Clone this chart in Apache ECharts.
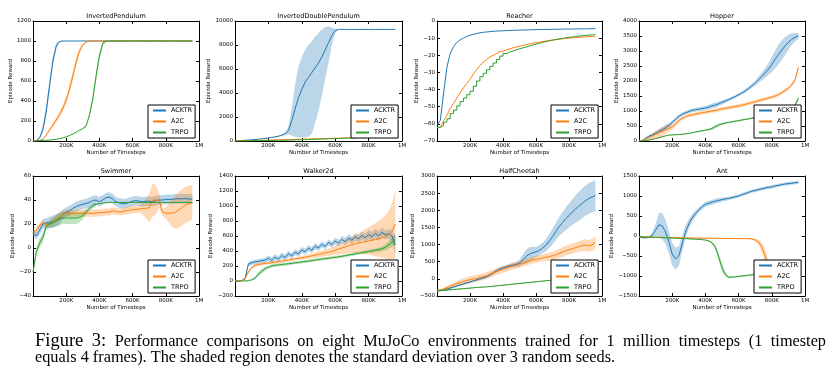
<!DOCTYPE html>
<html>
<head>
<meta charset="utf-8">
<script src="https://cdn.jsdelivr.net/npm/echarts@6/dist/echarts.min.js"></script>
<style>
html, body { margin: 0; padding: 0; background: #fff; }
#chart { width: 837px; height: 377px; }
</style>
</head>
<body>
<div id="chart"></div>
<script>
var dom = document.getElementById("chart");
var myChart = echarts.init(dom, null, { renderer: 'canvas' });

// timesteps (thousands), shared by every curve
var stepsK = [0,20,40,60,80,100,120,140,160,180,
  200,220,240,260,280,300,320,340,360,380,
  400,420,440,460,480,500,520,540,560,580,
  600,620,640,660,680,700,720,740,760,780,
  800,820,840,860,880,900,920,940,960];

var xTicks = ['', '200K', '400K', '600K', '800K', '1M'];

// InvertedPendulum
var ipAcktr = [0,5,30,120,300,560,800,950,995,1000,
  1000,1000,1000,1000,1000,1000,1000,1000,1000,1000,
  1000,1000,1000,1000,1000,1000,1000,1000,1000,1000,
  1000,1000,1000,1000,1000,1000,1000,1000,1000,1000,
  1000,1000,1000,1000,1000,1000,1000,1000,1000];
var ipAcktrStd = [0,0,10,40,60,60,50,30,5,0];
var ipA2c = [0,0,5,20,60,110,160,210,265,330,
  410,520,650,790,900,960,990,1000,1000,1000,
  1000,1000,1000,1000,1000,1000,1000,1000,1000,1000,
  1000,1000,1000,1000,1000,1000,1000,1000,1000,1000,
  1000,1000,1000,1000,1000,1000,1000,1000,1000];
var ipA2cStd = [0,0,0,5,10,15,20,25,30,35,40,45,50,45,30,15,5,0];
var ipTrpo = [0,2,4,6,8,10,13,17,23,31,
  42,55,70,88,108,125,150,260,420,650,
  850,975,998,1000,1000,1000,1000,1000,1000,1000,
  1000,1000,1000,1000,1000,1000,1000,1000,1000,1000,
  1000,1000,1000,1000,1000,1000,1000,1000,1000];
var ipTrpoStd = [0,0,0,0,0,0,0,0,0,0,0,0,0,0,0,5,10,20,40,50,40,20,5,0];

// InvertedDoublePendulum
var idpAcktr = [0,20,40,60,80,100,120,150,180,220,
  260,300,340,400,480,600,850,1700,2700,3600,
  4300,4900,5300,5700,6100,6500,7000,7600,8200,8800,
  9200,9300,9300,9300,9300,9300,9300,9300,9300,9300,
  9300,9300,9300,9300,9300,9300,9300,9300,9300];
var idpAcktrLo = [0,10,30,50,70,90,110,140,160,200,
  240,280,310,360,420,500,550,450,350,300,
  300,300,350,600,1500,2500,3800,5200,6500,8000,
  9000,9280];
var idpAcktrHi = [0,30,50,70,90,110,130,160,200,240,
  280,320,370,440,540,700,1200,2800,4700,6200,
  7000,7600,8000,8300,8700,9000,9300,9500,9550,9450,
  9350,9300];
var idpA2c = [0,6,12,18,24,30,38,46,54,62,
  70,78,86,94,102,110,118,126,134,142,
  150,158,166,174,182,190,198,206,214,222,
  230,240,250,260,270,280,295,310,325,340,
  360,380,400,425,450,485,520,580,650];
var idpTrpo = [0,4,8,12,16,20,25,30,35,40,
  45,50,55,60,65,70,78,86,94,102,
  110,118,126,134,142,150,160,170,180,190,
  200,210,220,230,240,250,265,280,295,310,
  330,350,370,400,430,480,540,620,750];

// Reacher
var reAcktr = [-61,-58,-42,-27,-19,-15,-12.5,-11,-10,-9,
  -8.3,-7.8,-7.3,-6.9,-6.6,-6.4,-6.2,-6,-5.9,-5.8,
  -5.7,-5.6,-5.5,-5.45,-5.4,-5.3,-5.25,-5.2,-5.15,-5.1,
  -5.05,-5,-4.95,-4.9,-4.9,-4.85,-4.8,-4.8,-4.75,-4.7,
  -4.7,-4.65,-4.6,-4.6,-4.6,-4.55,-4.5,-4.5,-4.5];
var reA2c = [-62,-62,-58,-55,-51,-48,-45,-42,-39,-36.5,
  -34,-31,-28.5,-26,-24,-22.5,-21,-20,-19,-18,
  -17.5,-16.9,-16.3,-15.7,-15.2,-14.7,-14.3,-13.8,-13.4,-13,
  -12.6,-12.3,-12,-11.7,-11.4,-11.1,-10.9,-10.6,-10.4,-10.2,
  -10,-9.85,-9.7,-9.55,-9.4,-9.25,-9.1,-9,-8.9];
var reTrpo = [-62,-61,-59,-57,-54,-52,-49.5,-47,-45,-43,
  -41,-38,-35,-32.5,-30.5,-28.5,-26.5,-24.5,-22.5,-20.5,
  -19,-18.2,-17.5,-16.8,-16.2,-15.7,-15.2,-14.6,-14,-13.5,
  -13,-12.5,-12,-11.6,-11.2,-10.8,-10.5,-10.1,-9.8,-9.5,
  -9.3,-9,-8.8,-8.6,-8.4,-8.25,-8.1,-7.95,-7.8];

// Hopper
var hoAcktr = [0,20,100,160,210,260,320,380,440,520,
  620,720,820,890,940,980,1020,1040,1060,1080,
  1100,1130,1170,1200,1240,1290,1330,1380,1430,1480,
  1540,1600,1670,1750,1840,1930,2040,2150,2270,2400,
  2550,2720,2880,3030,3170,3290,3390,3460,3500];
var hoAcktrStd = [0,10,20,30,40,50,60,80,100,80,
  60,60,60,60,60,60,60,60,60,70,
  70,80,80,80,80,70,60,50,50,50,
  50,50,60,60,70,80,100,130,160,200,
  250,300,330,330,300,250,200,150,100];
var hoA2c = [0,10,50,100,160,220,270,320,370,420,
  470,560,680,760,810,850,870,900,920,940,
  960,980,1000,1020,1040,1070,1090,1110,1130,1150,
  1170,1190,1220,1250,1280,1310,1340,1370,1400,1430,
  1460,1500,1550,1610,1680,1760,1870,2030,2450];
var hoA2cStd = [0,10,30,60,100,130,150,150,140,120,
  100,80,70,60,60,60,60,60,60,60,
  60,60,60,60,60,60,60,60,60,60,
  60,60,60,60,60,60,60,60,60,60,
  60,60,60,60,60,60,70,80,80];
var hoTrpo = [0,5,15,30,55,80,110,140,170,195,
  205,210,215,225,240,255,275,300,320,340,
  360,380,420,480,530,570,600,620,640,660,
  680,700,720,740,760,775,790,800,810,820,
  830,850,870,890,920,960,1050,1200,1420];
var hoTrpoStd = [0,5,5,10,10,10,15,15,15,15,
  15,15,15,15,15,15,20,20,20,20,
  20,30,50,60,50,40,30,30,30,30,
  30,30,30,30,30,30,30,30,30,30,
  30,30,30,30,30,30,40,60,80];

// Swimmer
var swAcktr = [13,10,15,20,21,21,22,23,25,28,
  30,31,33,34.5,35.5,36.5,37,38,39.5,40,
  38.5,40,42,42.5,41,38.5,37.5,37,37,38,
  39,39.5,39,38.5,39,39,38.5,39.5,40,40,
  40.5,40.5,40.5,41,41,41,41,41,40.5];
var swAcktrStd = [3,3,4,4,4,5,5,5,5,4,
  4,4,4,4,4,4,4,4,4,4,
  4,4,4,4,4,4,4,4,4,4,
  4,4,4,4,4,4,4,4,4,4,
  4,4,4,4,4,4,4,4,4];
var swA2c = [12,15,19,21,19,20,22,24,26,28,
  29,29,29,29,29,29,29,29,29,29,
  29.5,29.5,30,30,31,30.5,30,30.5,31,31.5,
  32,32,32.5,33,33,33.5,40,40,39.5,30,
  29,29,29,30,32,34,36,37,38];
var swA2cStd = [2,2,2,2,2,2,3,3,3,3,
  3,3,3,3,3,3,3,3,3,3,
  3,3,3,3,3,3,3,3,3,3,
  3,3,3,5,8,12,14,12,6,3,
  5,8,12,14,15,15,15,15,14];
var swTrpo = [-20,-3,4,9,18,20,21,23,24,25,
  25,25,25,25,25.5,27,30,33,35,36.5,
  37,37.5,37.8,38,38,38,38,38,38,38,
  38,38,38,38,38,38,38,38,38,38,
  38,38,38,38,38,38,38,38,38];
var swTrpoStd = [3,4,4,4,3,3,4,5,5,5,5,5,5,5,4,3,2,2,2,2];

// Walker2d
var waAcktr = [0,0,5,30,225,245,255,262,270,278,
  305,272,320,290,340,310,365,335,385,360,
  415,390,440,410,465,440,490,460,515,485,
  535,505,555,525,575,545,590,560,610,575,
  620,590,635,600,650,615,630,600,480];
var waAcktrStd = [0,0,5,20,30,30,30,30,30,30,
  40,40,40,40,40,40,40,40,40,40,
  40,40,40,40,40,40,40,40,40,40,
  45,45,45,50,50,50,50,50,55,55,
  60,60,60,60,60,60,60,80,120];
var waA2c = [0,0,5,30,120,180,210,220,228,235,
  240,245,252,258,265,272,280,287,295,302,
  310,318,326,335,345,355,365,375,385,395,
  410,425,440,455,470,485,495,505,515,525,
  535,545,550,562,575,590,610,660,760];
var waA2cStd = [0,0,5,20,20,20,20,20,20,20,
  20,20,20,20,20,20,20,20,20,20,
  25,25,30,30,35,40,40,45,50,55,
  60,70,80,90,100,110,120,130,150,170,
  180,200,220,240,260,290,320,380,450];
var waTrpo = [0,0,0,0,5,15,40,90,130,165,
  185,200,210,215,220,225,230,236,242,248,
  254,260,266,272,280,286,292,298,304,310,
  316,322,330,338,346,354,362,370,378,386,
  394,402,410,418,430,450,480,520,550];
var waTrpoStd = [0,0,0,0,5,10,20,30,30,25,
  20,20,20,20,20,20,20,20,20,20,
  20,20,20,20,20,20,20,20,20,20,
  20,20,20,20,20,20,20,20,20,20,
  20,25,25,30,30,40,50,60,70];

// HalfCheetah
var hcAcktr = [-350,-340,-320,-300,-270,-240,-210,-180,-150,-120,
  -90,-60,-30,0,30,60,110,170,230,280,
  320,350,380,400,420,460,560,650,720,760,
  790,830,900,980,1100,1230,1380,1520,1640,1750,
  1850,1950,2040,2120,2200,2280,2340,2390,2430];
var hcAcktrStd = [30,30,30,30,30,30,30,30,30,30,
  30,30,30,40,40,40,50,50,50,50,
  50,50,50,60,80,100,150,200,200,180,
  150,150,150,180,200,230,250,280,300,330,
  350,370,400,420,430,440,450,450,450];
var hcA2c = [-350,-330,-300,-260,-220,-180,-140,-110,-80,-50,
  -25,-5,10,40,70,95,130,170,210,245,
  280,310,340,370,400,430,460,490,520,550,
  570,590,610,630,650,670,700,740,780,820,
  850,880,910,940,970,990,960,990,1070];
var hcA2cStd = [40,40,40,50,60,70,80,90,100,100,
  100,100,100,100,100,100,100,100,100,100,
  100,100,100,100,100,100,100,100,100,100,
  100,100,100,110,120,120,130,130,140,140,
  150,150,150,160,160,170,170,180,180];
var hcTrpo = [-350,-342,-334,-326,-318,-310,-302,-294,-286,-278,
  -270,-260,-250,-245,-240,-235,-225,-215,-205,-195,
  -185,-175,-165,-155,-145,-135,-125,-115,-105,-95,
  -85,-75,-65,-55,-45,-35,-25,-15,-5,5,
  15,25,35,45,55,65,75,85,95];
var hcTrpoStd = [15,15,15,15,15,15,15,15,15,15,
  15,15,15,15,15,15,15,15,15,15,
  15,15,15,15,15,15,15,15,15,15,
  15,15,15,15,15,15,15,15,15,15,
  15,15,15,15,15,15,15,15,15];

// Ant
var anAcktr = [-20,-40,-45,-30,20,150,280,250,100,-150,
  -450,-570,-500,-200,100,300,450,560,650,730,
  790,820,845,870,890,910,925,940,960,980,
  1000,1035,1060,1090,1120,1140,1160,1180,1200,1215,
  1230,1250,1265,1285,1300,1310,1320,1330,1340];
var anAcktrStd = [20,20,20,20,60,150,300,330,300,280,
  280,280,250,200,150,120,100,80,60,60,
  60,60,60,60,60,50,50,40,40,40,
  40,40,40,40,40,40,40,40,40,40,
  40,40,40,40,40,40,40,40,40];
var anA2c = [-20,-22,-24,-26,-28,-30,-32,-34,-36,-38,
  -40,-42,-44,-46,-48,-50,-51,-52,-53,-54,
  -55,-56,-57,-58,-59,-60,-61,-62,-63,-64,
  -65,-66,-67,-68,-72,-100,-150,-280,-500,-800,
  -1050,-1150,-1200,-1200,-1200,-1200,-1200,-1200,-1200];
var anA2cStd = [10,10,10,10,10,10,10,10,10,10,
  10,10,10,10,10,10,10,10,10,10,
  10,10,10,10,10,10,10,10,10,10,
  10,10,10,10,15,30,60,120,180,200,
  150,100,60,60,60,60,60,60,60];
var anTrpo = [-20,-23,-26,-29,-32,-35,-38,-41,-44,-47,
  -50,-54,-58,-62,-66,-70,-75,-80,-85,-92,
  -100,-120,-170,-280,-520,-790,-960,-1030,-1030,-1020,
  -1010,-1000,-990,-980,-970,-960,-950,-945,-940,-935,
  -930,-925,-920,-915,-910,-905,-900,-895,-890];
var anTrpoStd = [5,5,5,5,5,5,5,5,5,5,
  10,10,10,10,10,10,10,10,10,10,
  10,15,30,60,90,100,60,30,20,20,
  20,20,20,20,20,20,20,20,20,20,
  20,20,20,20,20,20,20,20,20];

var captionLine1 = 'Figure 3: Performance comparisons on eight MuJoCo environments trained for 1 million timesteps (1 timestep';
var captionLine2 = 'equals 4 frames). The shaded region denotes the standard deviation over 3 random seeds.';

var colors = { ACKTR: '#1f77b4', A2C: '#ff7f0e', TRPO: '#2ca02c' };
var FONT = 'DejaVu Sans';

var panels = [
  { title: 'InvertedPendulum', yMin: 0, yMax: 1200, yStep: 200, nameGap: 16,
    lines: [{ name: 'ACKTR', mean: ipAcktr, std: ipAcktrStd }, { name: 'A2C', mean: ipA2c, std: ipA2cStd }, { name: 'TRPO', mean: ipTrpo, std: ipTrpoStd }] },
  { title: 'InvertedDoublePendulum', yMin: 0, yMax: 10000, yStep: 2000, nameGap: 20,
    lines: [{ name: 'ACKTR', mean: idpAcktr, lo: idpAcktrLo, hi: idpAcktrHi }, { name: 'A2C', mean: idpA2c }, { name: 'TRPO', mean: idpTrpo }] },
  { title: 'Reacher', yMin: -70, yMax: 0, yStep: 10, nameGap: 13,
    lines: [{ name: 'ACKTR', mean: reAcktr }, { name: 'A2C', mean: reA2c }, { name: 'TRPO', mean: reTrpo, step: 'end' }] },
  { title: 'Hopper', yMin: 0, yMax: 4000, yStep: 500, nameGap: 16,
    lines: [{ name: 'ACKTR', mean: hoAcktr, std: hoAcktrStd }, { name: 'A2C', mean: hoA2c, std: hoA2cStd }, { name: 'TRPO', mean: hoTrpo, std: hoTrpoStd }] },
  { title: 'Swimmer', yMin: -40, yMax: 60, yStep: 20, nameGap: 14,
    lines: [{ name: 'ACKTR', mean: swAcktr, std: swAcktrStd }, { name: 'A2C', mean: swA2c, std: swA2cStd }, { name: 'TRPO', mean: swTrpo, std: swTrpoStd }] },
  { title: 'Walker2d', yMin: -200, yMax: 1400, yStep: 200, nameGap: 17,
    lines: [{ name: 'ACKTR', mean: waAcktr, std: waAcktrStd }, { name: 'A2C', mean: waA2c, std: waA2cStd }, { name: 'TRPO', mean: waTrpo, std: waTrpoStd }] },
  { title: 'HalfCheetah', yMin: -500, yMax: 3000, yStep: 500, nameGap: 17,
    lines: [{ name: 'ACKTR', mean: hcAcktr, std: hcAcktrStd }, { name: 'A2C', mean: hcA2c, std: hcA2cStd }, { name: 'TRPO', mean: hcTrpo, std: hcTrpoStd }] },
  { title: 'Ant', yMin: -1500, yMax: 1500, yStep: 500, nameGap: 20,
    lines: [{ name: 'ACKTR', mean: anAcktr, std: anAcktrStd }, { name: 'A2C', mean: anA2c, std: anA2cStd }, { name: 'TRPO', mean: anTrpo, std: anTrpoStd }] }
];

// panel boxes
var colLeft = [33, 235, 437, 639];
var colWidth = [166, 167, 165, 166];
var rowTop = [21, 176];
var plotH = 120;

var grids = [], xAxes = [], yAxes = [], legends = [], series = [], graphics = [];
var txt = { color: '#000', fontFamily: FONT, fontSize: 5.5 };

function minusFmt(v) { return String(v).replace('-', '\u2212'); }

panels.forEach(function (p, g) {
  var left = colLeft[g % 4], top = rowTop[Math.floor(g / 4)], w = colWidth[g % 4];
  grids.push({ left: left, top: top, width: w, height: plotH, show: false });

  xAxes.push({
    gridIndex: g, type: 'value', min: 0, max: 1000000, interval: 200000,
    axisLine: { onZero: false, lineStyle: { color: '#000', width: 1 } },
    axisTick: { inside: true, length: 3, lineStyle: { color: '#000' } },
    axisLabel: { color: '#000', fontFamily: FONT, fontSize: 5.5, margin: 2,
      formatter: function (v) { return xTicks[Math.round(v / 200000)]; } },
    splitLine: { show: false },
    name: 'Number of Timesteps', nameLocation: 'middle', nameGap: 7, nameTextStyle: txt
  });
  xAxes.push({
    gridIndex: g, type: 'value', position: 'top', min: 0, max: 1000000, interval: 200000,
    axisLine: { onZero: false, lineStyle: { color: '#000', width: 1 } },
    axisTick: { inside: true, length: 3, lineStyle: { color: '#000' } },
    axisLabel: { show: false }, splitLine: { show: false }
  });
  yAxes.push({
    gridIndex: g, type: 'value', min: p.yMin, max: p.yMax, interval: p.yStep,
    axisLine: { onZero: false, lineStyle: { color: '#000', width: 1 } },
    axisTick: { inside: true, length: 3, lineStyle: { color: '#000' } },
    axisLabel: { color: '#000', fontFamily: FONT, fontSize: 5.5, margin: 2, formatter: minusFmt },
    splitLine: { show: false },
    name: 'Episode Reward', nameLocation: 'middle', nameRotate: 90, nameGap: p.nameGap, nameTextStyle: txt
  });
  yAxes.push({
    gridIndex: g, type: 'value', position: 'right', min: p.yMin, max: p.yMax, interval: p.yStep,
    axisLine: { onZero: false, lineStyle: { color: '#000', width: 1 } },
    axisTick: { inside: true, length: 3, lineStyle: { color: '#000' } },
    axisLabel: { show: false }, splitLine: { show: false }
  });

  graphics.push({
    type: 'text', silent: true, x: left + w / 2, y: top - 4.5,
    style: { text: p.title, fill: '#000', font: '6.5px "' + FONT + '"', align: 'center', verticalAlign: 'middle' }
  });

  legends.push({
    left: left + w - 51, top: top + plotH - 36, orient: 'vertical',
    data: ['ACKTR', 'A2C', 'TRPO'], icon: 'rect', itemWidth: 13, itemHeight: 2, itemGap: 4,
    padding: [2, 3, 2, 5], borderColor: '#000', borderWidth: 1, borderRadius: 0,
    backgroundColor: '#fff', selectedMode: false,
    textStyle: { color: '#000', fontFamily: FONT, fontSize: 6.5 }
  });

  p.lines.forEach(function (ln) {
    var c = colors[ln.name];
    var rows = [];
    if (ln.std) {
      ln.std.forEach(function (s, i) { rows.push([stepsK[i] * 1000, ln.mean[i] - s, ln.mean[i] + s]); });
    } else if (ln.lo) {
      ln.lo.forEach(function (v, i) { rows.push([stepsK[i] * 1000, v, ln.hi[i]]); });
    }
    if (rows.length) {
      series.push({
        type: 'custom', name: ln.name + ' band', xAxisIndex: 2 * g, yAxisIndex: 2 * g,
        silent: true, clip: true, z: 1, data: rows, encode: { x: 0, y: [1, 2] },
        renderItem: function (params, api) {
          if (params.dataIndex !== 0) return null;
          var upper = [], lower = [];
          rows.forEach(function (r) {
            upper.push(api.coord([r[0], r[2]]));
            lower.unshift(api.coord([r[0], r[1]]));
          });
          return { type: 'polygon', shape: { points: upper.concat(lower) }, style: { fill: c, opacity: 0.3 } };
        }
      });
    }
    series.push({
      type: 'line', name: ln.name, xAxisIndex: 2 * g, yAxisIndex: 2 * g, z: 3,
      data: ln.mean.map(function (v, i) { return [stepsK[i] * 1000, v]; }),
      step: ln.step || false, symbol: 'none', showSymbol: false,
      lineStyle: { color: c, width: 1 }, itemStyle: { color: c }
    });
  });
});

// caption, first line justified across the text block like the paper
var measureCtx = document.createElement('canvas').getContext('2d');
function textWidth(t, size) {
  measureCtx.font = size + 'px "Liberation Serif"';
  return measureCtx.measureText(t).width;
}
var capLeft = 35, capRight = 826, bodySize = 16.3, figSize = 18.5;
var words = captionLine1.split(' ');
var sizes = words.map(function (wd, i) { return i < 2 ? figSize : bodySize; });
var total = 0;
words.forEach(function (wd, i) { total += textWidth(wd, sizes[i]); });
var gap = (capRight - capLeft - total) / (words.length - 1);
var cx = capLeft;
words.forEach(function (wd, i) {
  graphics.push({
    type: 'text', silent: true, x: cx, y: 341.5,
    style: { text: wd, fill: '#000', font: sizes[i] + 'px "Liberation Serif"', align: 'left', verticalAlign: 'middle' }
  });
  cx += textWidth(wd, sizes[i]) + gap;
});
graphics.push({
  type: 'text', silent: true, x: capLeft, y: 358,
  style: { text: captionLine2, fill: '#000', font: bodySize + 'px "Liberation Serif"', align: 'left', verticalAlign: 'middle' }
});

option = {
  backgroundColor: '#fff',
  animation: false,
  color: [colors.ACKTR, colors.A2C, colors.TRPO],
  grid: grids,
  xAxis: xAxes,
  yAxis: yAxes,
  legend: legends,
  series: series,
  graphic: { elements: graphics }
};

if (option && typeof option === "object") {
  myChart.setOption(option, true);
}
</script>
</body>
</html>
